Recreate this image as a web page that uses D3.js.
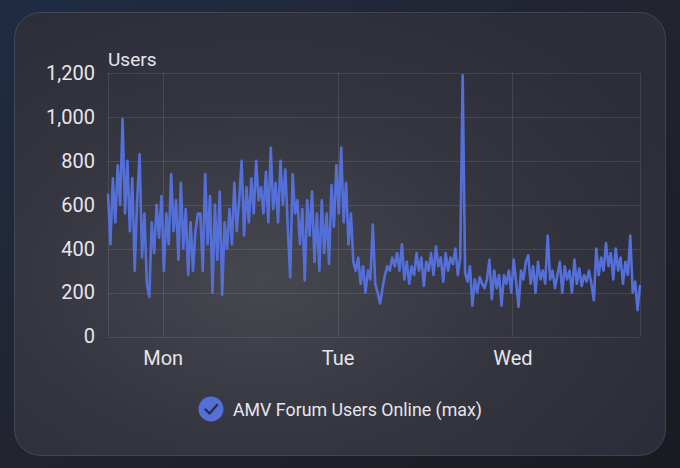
<!DOCTYPE html>
<html><head><meta charset="utf-8">
<script src="https://cdn.jsdelivr.net/npm/d3@7"></script>
<style>
html,body{margin:0;padding:0;background:#1d1e27;}
svg{display:block;font-family:Roboto,"Noto Sans",sans-serif;}
</style></head>
<body>
<svg id="c" width="680" height="468"></svg>
<script>
// ---- data ----
const startTime = [2024, 0, 7, 16, 30]; // Sunday 16:30
const stepMinutes = 20;
const seriesName = "AMV Forum Users Online (max)";
const yTickValues = [0, 200, 400, 600, 800, 1000, 1200];
const dayLabels = ["Mon", "Tue", "Wed"];
const usersMax = [
650,420,720,520,780,600,990,560,800,480,720,300,
620,830,360,560,240,180,520,380,600,450,640,300,560,420,740,480,620,350,700,400,580,280,520,300,480,560,560,
300,740,420,640,200,600,350,660,190,520,400,580,420,700,480,620,800,460,680,520,
720,560,800,620,680,560,750,520,860,580,700,520,800,600,760,500,270,740,560,620,420,
580,255,620,460,660,340,560,300,620,380,560,330,690,500,780,560,860,520,700,420,
560,340,300,360,240,320,200,300,260,510,240,200,150,220,280,320,300,360,320,380,
300,420,260,340,240,320,280,380,300,360,230,340,300,380,280,410,320,360,250,380,
300,360,330,400,280,360,1190,290,250,320,140,260,200,270,240,220,260,350,170,300,
220,280,140,280,240,300,200,350,250,135,300,260,340,370,240,320,200,340,260,300,
240,460,260,300,220,280,340,200,320,260,300,200,350,240,310,230,280,250,300,240,
165,400,280,360,300,425,320,380,260,400,300,360,240,340,280,460,200,250,120,235
];

// ---- build ----
const t0 = new Date(...startTime);
const data = usersMax.map((v, i) => ({ t: new Date(t0.getTime() + i * stepMinutes * 60000), v }));
const svg = d3.select("#c");
const W = 680, H = 468;
const textColor = "#e6e6ec";
const tickFont = "20px";

const defs = svg.append("defs");
const bg = defs.append("linearGradient").attr("id", "pageBg").attr("x1", 0).attr("y1", 0).attr("x2", 1).attr("y2", 1);
bg.append("stop").attr("offset", "0%").attr("stop-color", "#1f2c44");
bg.append("stop").attr("offset", "50%").attr("stop-color", "#22242f");
bg.append("stop").attr("offset", "100%").attr("stop-color", "#1a1a21");
const card = defs.append("radialGradient").attr("id", "cardBg").attr("cx", "0.38").attr("cy", "0.6").attr("r", "0.7");
card.append("stop").attr("offset", "0%").attr("stop-color", "#46474f");
card.append("stop").attr("offset", "55%").attr("stop-color", "#34353f");
card.append("stop").attr("offset", "100%").attr("stop-color", "#2b2d39");

svg.append("rect").attr("width", W).attr("height", H).attr("fill", "url(#pageBg)");
svg.append("rect").attr("x", 14.5).attr("y", 12.5).attr("width", 651).attr("height", 443).attr("rx", 26)
  .attr("fill", "url(#cardBg)").attr("stroke", "rgba(255,255,255,0.13)").attr("stroke-width", 1);

const x0 = 108, x1 = 640, yTop = 73, yBot = 336.5;
const x = d3.scaleTime().domain([data[0].t, data[data.length - 1].t]).range([x0, x1]);
const y = d3.scaleLinear().domain([0, 1200]).range([yBot, yTop]);

const gridColor = "rgba(255,255,255,0.10)";
svg.append("g").selectAll("line").data(yTickValues).join("line")
  .attr("x1", x0).attr("x2", x1).attr("y1", d => Math.round(y(d)) + 0.5).attr("y2", d => Math.round(y(d)) + 0.5)
  .attr("stroke", gridColor);
const dayTicks = d3.timeDay.range(d3.timeDay.ceil(data[0].t), data[data.length - 1].t);
svg.append("g").selectAll("line").data([data[0].t, ...dayTicks, data[data.length - 1].t]).join("line")
  .attr("x1", d => Math.round(x(d)) + 0.5).attr("x2", d => Math.round(x(d)) + 0.5)
  .attr("y1", yTop).attr("y2", yBot).attr("stroke", gridColor);

const yAxis = d3.axisLeft(y).tickValues(yTickValues).tickSize(0).tickPadding(0).tickFormat(d3.format(","));
const gy = svg.append("g").attr("transform", `translate(${95},0)`).call(yAxis);
gy.select(".domain").remove();
gy.selectAll("text").attr("fill", textColor).style("font-size", tickFont).style("font-family", "Roboto,sans-serif");

const xAxis = d3.axisBottom(x).tickValues(dayTicks).tickSize(0).tickPadding(0)
  .tickFormat((d, i) => dayLabels[i]);
const gx = svg.append("g").attr("transform", `translate(0,${351})`).call(xAxis);
gx.select(".domain").remove();
gx.selectAll("text").attr("fill", textColor).style("font-size", tickFont).style("font-family", "Roboto,sans-serif");

svg.append("text").attr("x", 108).attr("y", 66).attr("fill", textColor)
  .style("font-size", "19px").text("Users");

const line = d3.line().x(d => x(d.t)).y(d => y(d.v));
svg.append("path").datum(data).attr("d", line).attr("fill", "none")
  .attr("stroke", "#5470d8").attr("stroke-width", 2.6).attr("stroke-linejoin", "round");

const lg = svg.append("g").attr("transform", "translate(211,409)");
lg.append("circle").attr("r", 12.5).attr("fill", "#5470d8");
lg.append("path").attr("d", "M-5.5,0.5 L-1.5,4.5 L6,-4").attr("fill", "none")
  .attr("stroke", "#2a2d3c").attr("stroke-width", 2.4).attr("stroke-linecap", "round").attr("stroke-linejoin", "round");
svg.append("text").attr("x", 233).attr("y", 415.5).attr("fill", textColor)
  .style("font-size", "17.8px").text(seriesName);
</script>
</body></html>
